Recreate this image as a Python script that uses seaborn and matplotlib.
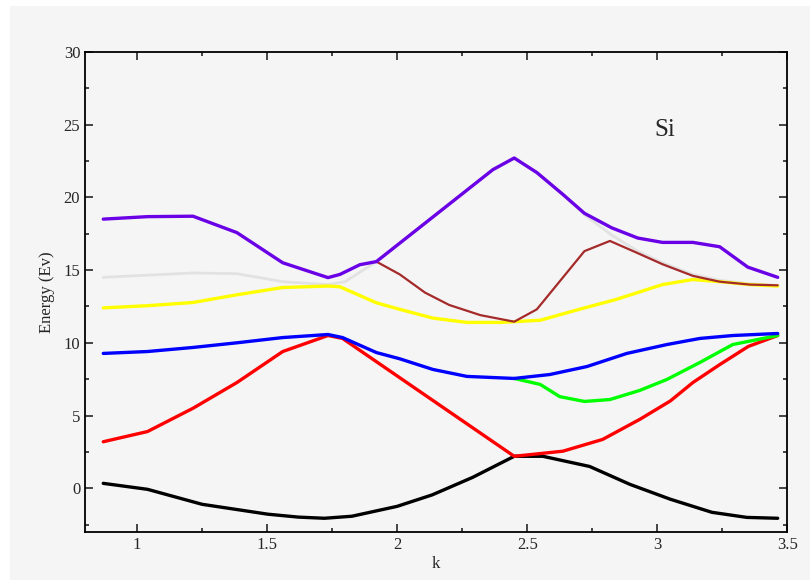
import numpy as np
import pandas as pd
import matplotlib.pyplot as plt
from matplotlib.ticker import MultipleLocator
from matplotlib.patches import Rectangle
import seaborn as sns

# band energies (k, E)
k_black = [0.87, 1.04, 1.25, 1.503, 1.62, 1.72, 1.826, 2.0, 2.135, 2.29, 2.45, 2.56, 2.74, 2.895, 3.05, 3.21, 3.344, 3.463]
e_black = [0.34, -0.07, -1.1, -1.78, -1.98, -2.06, -1.92, -1.24, -0.45, 0.75, 2.2, 2.2, 1.5, 0.27, -0.75, -1.65, -2.0, -2.06]

k_red = [0.87, 1.04, 1.215, 1.384, 1.56, 1.734, 1.79, 2.01, 2.45, 2.637, 2.79, 2.933, 3.05, 3.137, 3.24, 3.35, 3.463]
e_red = [3.2, 3.9, 5.5, 7.27, 9.4, 10.5, 10.3, 7.6, 2.2, 2.55, 3.36, 4.74, 6.0, 7.27, 8.5, 9.75, 10.5]

k_green = [2.45, 2.55, 2.625, 2.72, 2.818, 2.933, 3.037, 3.164, 3.29, 3.463]
e_green = [7.55, 7.14, 6.3, 5.97, 6.1, 6.73, 7.48, 8.65, 9.88, 10.5]

k_blue = [0.87, 1.04, 1.215, 1.384, 1.56, 1.734, 1.79, 1.92, 2.01, 2.137, 2.268, 2.45, 2.587, 2.73, 2.883, 3.037, 3.164, 3.29, 3.463]
e_blue = [9.27, 9.4, 9.68, 10.0, 10.36, 10.57, 10.36, 9.33, 8.9, 8.17, 7.69, 7.55, 7.82, 8.37, 9.27, 9.88, 10.3, 10.5, 10.64]

k_yellow = [0.87, 1.04, 1.215, 1.384, 1.56, 1.734, 1.78, 1.92, 2.01, 2.137, 2.268, 2.395, 2.55, 2.70, 2.84, 3.02, 3.137, 3.24, 3.356, 3.463]
e_yellow = [12.4, 12.55, 12.77, 13.3, 13.8, 13.9, 13.85, 12.75, 12.3, 11.7, 11.4, 11.4, 11.55, 12.3, 12.97, 14.0, 14.35, 14.2, 14.0, 13.9]

k_gray = [0.87, 1.215, 1.384, 1.56, 1.734, 1.80, 1.92, 2.368, 2.45, 2.537, 2.637, 2.72, 2.825, 2.925, 3.02, 3.137, 3.24, 3.356, 3.463]
e_gray = [14.5, 14.8, 14.75, 14.2, 14.0, 14.2, 15.58, 21.9, 22.7, 21.7, 20.2, 18.8, 17.4, 16.3, 15.5, 14.7, 14.3, 14.05, 13.95]

k_brown = [1.92, 2.01, 2.107, 2.2, 2.32, 2.45, 2.537, 2.72, 2.818, 2.92, 3.02, 3.137, 3.24, 3.356, 3.463]
e_brown = [15.58, 14.7, 13.45, 12.6, 11.9, 11.45, 12.3, 16.3, 17.0, 16.2, 15.4, 14.6, 14.2, 14.0, 13.95]

k_purple = [0.87, 1.04, 1.215, 1.384, 1.56, 1.734, 1.78, 1.857, 1.92, 2.368, 2.45, 2.537, 2.637, 2.72, 2.825, 2.925, 3.02, 3.137, 3.24, 3.348, 3.463]
e_purple = [18.5, 18.67, 18.7, 17.57, 15.5, 14.48, 14.7, 15.37, 15.58, 21.9, 22.7, 21.7, 20.2, 18.9, 17.9, 17.2, 16.9, 16.9, 16.6, 15.2, 14.5]

bands = [
    (k_gray, e_gray, "#e2e2e2", 2.0),
    (k_black, e_black, "black", 2.4),
    (k_red, e_red, "#ff0000", 2.4),
    (k_green, e_green, "#00ff00", 2.4),
    (k_blue, e_blue, "#0000ff", 2.4),
    (k_yellow, e_yellow, "#ffff00", 2.4),
    (k_brown, e_brown, "#a52a2a", 1.6),
    (k_purple, e_purple, "#6a00e6", 2.4),
]

sns.set_style("ticks")
plt.rcParams['font.family'] = ['Liberation Serif', 'DejaVu Serif']

fig = plt.figure(figsize=(8.1, 5.82), dpi=100, facecolor="white")
fig.patches.append(Rectangle((10 / 810, 2 / 582), 800 / 810, 574 / 582, transform=fig.transFigure,
                             facecolor="#f5f5f5", edgecolor="none", zorder=-10))
ax = fig.add_axes([0.105, 0.086, 0.867, 0.825])
ax.set_facecolor("#f5f5f5")

for i, (k, e, c, lw) in enumerate(bands):
    df = pd.DataFrame({"k": k, "E": e})
    sns.lineplot(data=df, x="k", y="E", sort=False, color=c, linewidth=lw, ax=ax, zorder=2 + i)

ax.set_xlim(0.8, 3.5)
ax.set_ylim(-3, 30)
ax.xaxis.set_major_locator(MultipleLocator(0.5))
ax.xaxis.set_minor_locator(MultipleLocator(0.25))
ax.yaxis.set_major_locator(MultipleLocator(5))
ax.yaxis.set_minor_locator(MultipleLocator(2.5))
ax.set_xticks([1, 1.5, 2, 2.5, 3, 3.5])
ax.set_xticklabels(["1", "1.5", "2", "2.5", "3", "3.5"])
ax.tick_params(which="both", direction="in", top=True, right=True, labelsize=12, width=1.2)
ax.tick_params(which="major", length=6)
ax.tick_params(which="minor", length=3)
for s in ax.spines.values():
    s.set_linewidth(1.3)
    s.set_color("black")

ax.set_xlabel("k", fontsize=12, labelpad=2)
ax.set_ylabel("Energy (Ev)", fontsize=12, labelpad=6)
ax.text(3.03, 24.6, "Si", fontsize=18, ha="center", va="center")

fig.savefig("out.png", dpi=100, facecolor=fig.get_facecolor())
